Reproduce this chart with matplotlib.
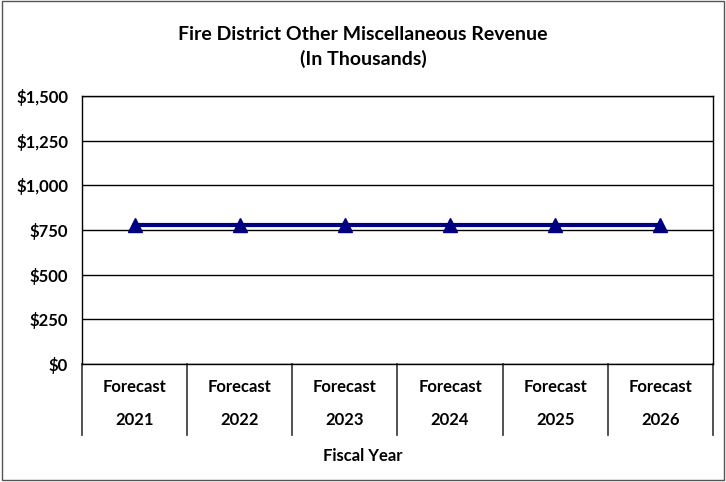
import matplotlib.pyplot as plt
from matplotlib.patches import Rectangle
import matplotlib.transforms as mtransforms

plt.rcParams['font.family'] = ['Lato', 'DejaVu Sans']

years = ["2021", "2022", "2023", "2024", "2025", "2026"]
revenue = [775, 775, 775, 775, 775, 775]
yticks = [0, 250, 500, 750, 1000, 1250, 1500]

fig = plt.figure(figsize=(7.26, 4.82), dpi=100)
ax = fig.add_axes([0.113, 0.245, 0.869, 0.556])

x = list(range(len(years)))
ax.plot(x, revenue, color='#000080', lw=3, marker='^', markersize=10, zorder=3)

ax.set_xlim(-0.5, len(years) - 0.5)
ax.set_ylim(0, 1500)
ax.set_yticks(yticks)
ax.set_yticklabels(['${:,}'.format(v) for v in yticks], fontweight='bold', fontsize=12)
ax.tick_params(axis='y', length=0, pad=10)
ax.grid(axis='y', color='black', lw=1)
ax.set_axisbelow(True)
for s in ax.spines.values():
    s.set_color('black')
    s.set_linewidth(1)

# category table under the axis
ax.set_xticks([])
trans = mtransforms.blended_transform_factory(ax.transData, ax.transAxes)
for b in [i - 0.5 for i in range(len(years) + 1)]:
    ax.plot([b, b], [0, -0.265], color='#333333', lw=1.2, transform=trans, clip_on=False)
for i, yr in enumerate(years):
    ax.text(i, -0.085, "Forecast", transform=trans, ha='center', va='center',
            fontweight='bold', fontsize=12)
    ax.text(i, -0.21, yr, transform=trans, ha='center', va='center',
            fontweight='bold', fontsize=12)

fig.text(0.5, 0.054, "Fiscal Year", ha='center', va='center', fontweight='bold', fontsize=12)
fig.text(0.5, 0.902, "Fire District Other Miscellaneous Revenue\n(In Thousands)",
         ha='center', va='center', fontweight='bold', fontsize=14, linespacing=1.45)

fig.patches.append(Rectangle((0.003, 0.004), 0.994, 0.993, transform=fig.transFigure,
                             fill=False, edgecolor='#555555', lw=1))

fig.savefig("out.png", dpi=100)
